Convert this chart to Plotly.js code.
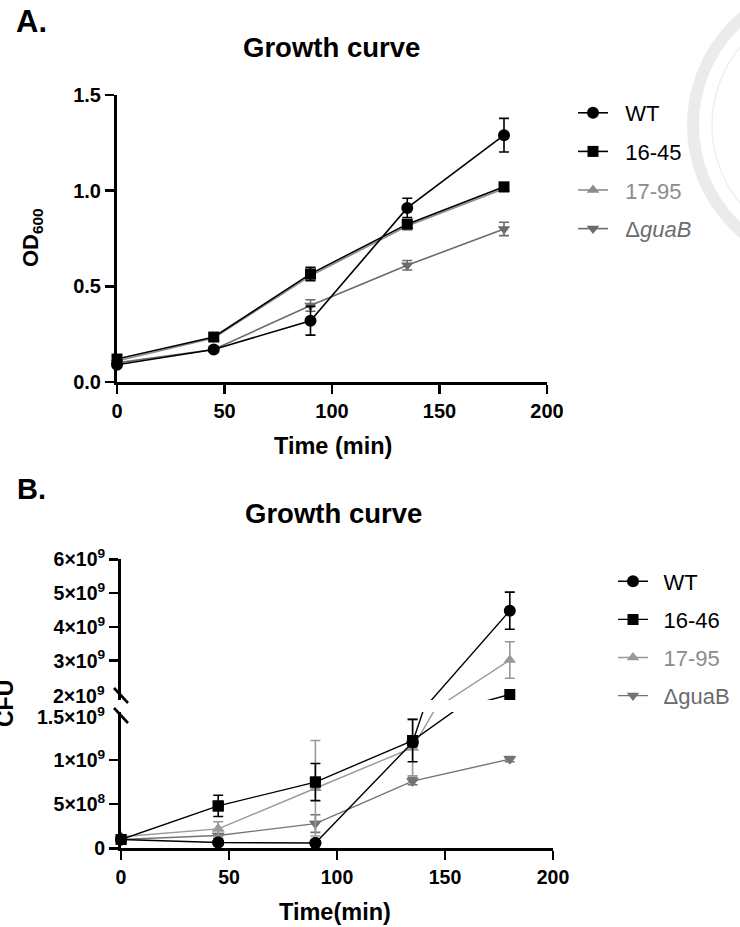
<!DOCTYPE html>
<html>
<head>
<meta charset="utf-8">
<script src="https://cdn.plot.ly/plotly-3.0.1.min.js"></script>
<style>html,body{margin:0;padding:0;background:#fff}#chart{width:740px;height:927px}</style>
</head>
<body>
<div id="chart"></div>
<script>
// ---------- data ----------
const times = [0, 45, 90, 135, 180];

// Panel A: OD600
const seriesNamesA = ['WT', '16-45', '17-95', 'ΔguaB'];
const wtA = [0.09, 0.17, 0.32, 0.91, 1.29];
const wtAErr = [0.01, 0.01, 0.075, 0.05, 0.088];
const s1645A = [0.12, 0.235, 0.565, 0.825, 1.02];
const s1645AErr = [0.01, 0.015, 0.035, 0.02, 0.015];
const s1795A = [0.11, 0.23, 0.555, 0.815, 1.01];
const s1795AErr = [0.01, 0.01, 0.02, 0.02, 0.015];
const guaBA = [0.10, 0.17, 0.40, 0.61, 0.80];
const guaBAErr = [0.01, 0.01, 0.03, 0.025, 0.035];

// Panel B: CFU
const seriesNamesB = ['WT', '16-46', '17-95', 'ΔguaB'];
const wtB = [1.0e8, 0.65e8, 0.6e8, 1.2e9, 4.48e9];
const wtBErr = [0.1e8, 0.1e8, 0.1e8, 0.05e9, 0.55e9];
const s1646B = [1.0e8, 4.8e8, 7.5e8, 1.22e9, 2.0e9];
const s1646BErr = [0.3e8, 1.2e8, 2.1e8, 0.24e9, 0];
const s1795B = [1.3e8, 2.2e8, 6.8e8, 1.14e9, 3.02e9];
const s1795BErr = [0.2e8, 0.8e8, 5.4e8, 0.32e9, 0.54e9];
const guaBB = [1.0e8, 1.45e8, 2.8e8, 0.76e9, 1.01e9];
const guaBBErr = [0.1e8, 0.1e8, 1.0e8, 0.04e9, 0.03e9];

// axis ticks
const xTicks = [0, 50, 100, 150, 200];
const yTicksA = [0, 0.5, 1.0, 1.5];
const yTickTextA = ['0.0', '0.5', '1.0', '1.5'];
const yTicksBLow = [0, 5e8, 1e9];
const yTickTextBLow = ['0', '5×10<sup>8</sup>', '1×10<sup>9</sup>'];
const yTicksBHigh = [3e9, 4e9, 5e9, 6e9];
const yTickTextBHigh = ['3×10<sup>9</sup>', '4×10<sup>9</sup>', '5×10<sup>9</sup>', '6×10<sup>9</sup>'];
const breakLow = 1.5e9;   // top label of lower segment
const breakHigh = 2e9;    // bottom label of upper segment

// ---------- styling ----------
const FONT = 'Liberation Sans, Arial, Helvetica, sans-serif';
const W = 740, H = 927;
const px = v => v / W;
const py = v => 1 - v / H;

const styleA = [
  {color: '#000000', symbol: 'circle', size: 12, txt: '#000000', label: 'WT'},
  {color: '#000000', symbol: 'square', size: 11, txt: '#000000', label: '16-45'},
  {color: '#8c8c8c', symbol: 'triangle-up', size: 11, txt: '#8c8c8c', label: '17-95'},
  {color: '#6b6b6b', symbol: 'triangle-down', size: 11, txt: '#6b6b6b', label: 'Δ<i>guaB</i>'}
];
const styleB = [
  {color: '#000000', symbol: 'circle', size: 12, txt: '#000000', label: 'WT'},
  {color: '#000000', symbol: 'square', size: 11, txt: '#000000', label: '16-46'},
  {color: '#999999', symbol: 'triangle-up', size: 11, txt: '#8c8c8c', label: '17-95'},
  {color: '#737373', symbol: 'triangle-down', size: 11, txt: '#6b6b6b', label: 'ΔguaB'}
];

function nm(st, pad) {
  const lbl = pad + st.label;
  return st.txt === '#000000' ? lbl : '<span style="color:' + st.txt + '">' + lbl + '</span>';
}
const PAD_A = '\u00a0\u00a0';
const PAD_B = '\u00a0\u2009';

const valsA = [wtA, s1645A, s1795A, guaBA];
const errsA = [wtAErr, s1645AErr, s1795AErr, guaBAErr];
const valsB = [wtB, s1646B, s1795B, guaBB];
const errsB = [wtBErr, s1646BErr, s1795BErr, guaBBErr];

const drawOrder = [3, 2, 0, 1];
const traces = [];

// Panel A
drawOrder.forEach(i => {
  const st = styleA[i];
  traces.push({
    x: times, y: valsA[i], type: 'scatter', mode: 'lines+markers',
    xaxis: 'x', yaxis: 'y', cliponaxis: false,
    name: nm(st, PAD_A), legend: 'legend', legendgroup: 'a' + i, legendrank: i + 1,
    line: {color: st.color, width: 1.6},
    marker: {color: st.color, symbol: st.symbol, size: st.size, line: {width: 0}},
    error_y: {type: 'data', array: errsA[i], color: st.color, thickness: 1.6, width: 5},
    hoverinfo: 'skip'
  });
});

// Panel B
drawOrder.forEach(i => {
  const st = styleB[i];
  const v = valsB[i], e = errsB[i];
  const lowIdx = v.map((val, k) => val <= breakLow ? k : -1).filter(k => k >= 0);
  const highIdx = v.map((val, k) => val >= breakHigh ? k : -1).filter(k => k >= 0);
  // lines on lower segment (legend entry)
  traces.push({
    x: times, y: v, type: 'scatter', mode: 'lines+markers',
    xaxis: 'x2', yaxis: 'y2', cliponaxis: true,
    name: nm(st, PAD_B), legend: 'legend2', legendgroup: 'b' + i, legendrank: i + 1,
    line: {color: st.color, width: 1.4},
    marker: {color: st.color, symbol: st.symbol, size: st.size, line: {width: 0}},
    hoverinfo: 'skip'
  });
  // lines on upper segment
  traces.push({
    x: times, y: v, type: 'scatter', mode: 'lines',
    xaxis: 'x2', yaxis: 'y3', cliponaxis: true, showlegend: false,
    legendgroup: 'b' + i,
    line: {color: st.color, width: 1.4}, hoverinfo: 'skip'
  });
  // markers lower
  traces.push({
    x: lowIdx.map(k => times[k]), y: lowIdx.map(k => v[k]), type: 'scatter', mode: 'markers',
    xaxis: 'x2', yaxis: 'y2', cliponaxis: false, showlegend: false, legendgroup: 'b' + i,
    marker: {color: st.color, symbol: st.symbol, size: st.size, line: {width: 0}},
    error_y: {type: 'data', array: lowIdx.map(k => e[k]), color: st.color, thickness: 1.6, width: 5},
    hoverinfo: 'skip'
  });
  // markers upper
  traces.push({
    x: highIdx.map(k => times[k]), y: highIdx.map(k => v[k]), type: 'scatter', mode: 'markers',
    xaxis: 'x2', yaxis: 'y3', cliponaxis: false, showlegend: false, legendgroup: 'b' + i,
    marker: {color: st.color, symbol: st.symbol, size: st.size, line: {width: 0}},
    error_y: {type: 'data', array: highIdx.map(k => e[k]), color: st.color, thickness: 1.6, width: 5},
    hoverinfo: 'skip'
  });
});

const tickFontA = {family: FONT, size: 20, color: '#000', weight: 'bold'};
const tickFontB = {family: FONT, size: 19.5, color: '#000', weight: 'bold'};
const axisCommon = {
  showgrid: false, zeroline: false, showline: true, linecolor: '#000', linewidth: 3,
  ticks: 'outside', ticklen: 9, tickwidth: 2.6, tickcolor: '#000', fixedrange: true
};

// pixel geometry of the reference
const A_x0 = 117, A_x1 = 547, A_y0 = 382, A_y1 = 95;
const B_x0 = 121, B_x1 = 553;
const B_low_bot = 848.3, B_low_top = 712, B_low_pxPer = 88.3;   // px per 1e9
const B_up_bot = 700, B_up_top = 559.3, B_up_pxPer = 33.8;      // px per 1e9

const layout = {
  width: W, height: H,
  margin: {l: 0, r: 0, t: 0, b: 0},
  paper_bgcolor: '#ffffff', plot_bgcolor: 'rgba(0,0,0,0)',
  font: {family: FONT, color: '#000'},
  xaxis: Object.assign({}, axisCommon, {
    domain: [px(A_x0), px(A_x1)], anchor: 'y', range: [0, 200],
    tickvals: xTicks, tickfont: tickFontA
  }),
  yaxis: Object.assign({}, axisCommon, {
    domain: [py(A_y0), py(A_y1)], anchor: 'x', range: [0, 1.5],
    tickvals: yTicksA, ticktext: yTickTextA, tickfont: tickFontA
  }),
  xaxis2: Object.assign({}, axisCommon, {
    domain: [px(B_x0), px(B_x1)], anchor: 'y2', range: [0, 200],
    tickvals: xTicks, tickfont: tickFontB
  }),
  yaxis2: Object.assign({}, axisCommon, {
    domain: [py(B_low_bot), py(B_low_top)], anchor: 'x2',
    range: [0, (B_low_bot - B_low_top) / B_low_pxPer * 1e9],
    tickvals: yTicksBLow, ticktext: yTickTextBLow, tickfont: tickFontB
  }),
  yaxis3: Object.assign({}, axisCommon, {
    domain: [py(B_up_bot), py(B_up_top)], anchor: 'x2',
    range: [breakHigh - (B_up_bot - 694.5) / B_up_pxPer * 1e9, 6e9],
    tickvals: yTicksBHigh, ticktext: yTickTextBHigh, tickfont: tickFontB
  }),
  legend: {
    x: px(573), xanchor: 'left', y: py(92), yanchor: 'top',
    font: {family: FONT, size: 22, color: '#000'}, bgcolor: 'rgba(0,0,0,0)',
    itemwidth: 30, traceorder: 'grouped', tracegroupgap: 7, borderwidth: 0
  },
  legend2: {
    x: px(613), xanchor: 'left', y: py(560.5), yanchor: 'top',
    font: {family: FONT, size: 22, color: '#000'}, bgcolor: 'rgba(0,0,0,0)',
    itemwidth: 30, traceorder: 'grouped', tracegroupgap: 6.5, borderwidth: 0
  },
  showlegend: true,
  shapes: [
    // faint watermark seal at top-right
    {type: 'circle', xref: 'paper', yref: 'paper', layer: 'below',
     x0: px(693), x1: px(975), y0: py(266), y1: py(-16),
     line: {color: '#ebebeb', width: 12}},
    {type: 'circle', xref: 'paper', yref: 'paper', layer: 'below',
     x0: px(712), x1: px(956), y0: py(247), y1: py(3),
     line: {color: '#efefef', width: 1.5}},
    // axis break marks
    {type: 'line', xref: 'paper', yref: 'paper', x0: px(114), y0: py(688), x1: px(128), y1: py(703),
     line: {color: '#000', width: 2.6}},
    {type: 'line', xref: 'paper', yref: 'paper', x0: px(114), y0: py(708), x1: px(128), y1: py(723),
     line: {color: '#000', width: 2.6}}
  ],
  annotations: [
    {text: 'A.', xref: 'paper', yref: 'paper', x: px(14), y: py(22), xanchor: 'left', yanchor: 'middle',
     showarrow: false, font: {family: FONT, size: 31, weight: 'bold'}},
    {text: 'B.', xref: 'paper', yref: 'paper', x: px(15), y: py(489), xanchor: 'left', yanchor: 'middle',
     showarrow: false, font: {family: FONT, size: 29, weight: 'bold'}},
    {text: 'Growth curve', xref: 'paper', yref: 'paper', x: px(331), y: py(47), xanchor: 'center', yanchor: 'middle',
     showarrow: false, font: {family: FONT, size: 27.5, weight: 'bold'}},
    {text: 'Growth curve', xref: 'paper', yref: 'paper', x: px(333), y: py(513), xanchor: 'center', yanchor: 'middle',
     showarrow: false, font: {family: FONT, size: 27.5, weight: 'bold'}},
    {text: 'Time (min)', xref: 'paper', yref: 'paper', x: px(333), y: py(446), xanchor: 'center', yanchor: 'middle',
     showarrow: false, font: {family: FONT, size: 23.5, weight: 'bold'}},
    {text: 'Time(min)', xref: 'paper', yref: 'paper', x: px(335), y: py(912), xanchor: 'center', yanchor: 'middle',
     showarrow: false, font: {family: FONT, size: 23.5, weight: 'bold'}},
    {text: 'OD<sub>600</sub>', xref: 'paper', yref: 'paper', x: px(32), y: py(238), xanchor: 'center', yanchor: 'middle',
     textangle: -90, showarrow: false, font: {family: FONT, size: 22, weight: 'bold'}},
    {text: 'CFU', xref: 'paper', yref: 'paper', x: px(5), y: py(704), xanchor: 'center', yanchor: 'middle',
     textangle: -90, showarrow: false, font: {family: FONT, size: 23, weight: 'bold'}},
    {text: '2×10<sup>9</sup>', xref: 'paper', yref: 'paper', x: px(107), y: py(695), xanchor: 'right', yanchor: 'middle',
     showarrow: false, font: {family: FONT, size: 19.5, weight: 'bold'}},
    {text: '1.5×10<sup>9</sup>', xref: 'paper', yref: 'paper', x: px(107), y: py(716), xanchor: 'right', yanchor: 'middle',
     showarrow: false, font: {family: FONT, size: 19.5, weight: 'bold'}}
  ]
};

Plotly.newPlot('chart', traces, layout, {staticPlot: true, displayModeBar: false});
</script>
</body>
</html>
